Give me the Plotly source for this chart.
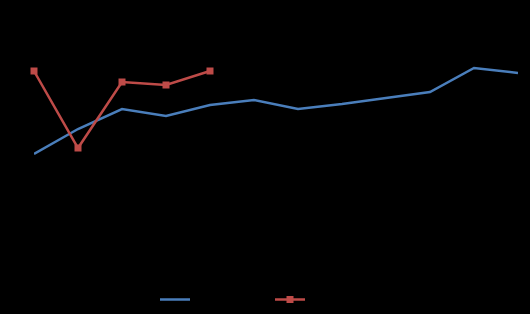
import plotly.graph_objects as go

categories = list(range(1, 13))
blue_values = [117, 142, 162, 155, 166, 171, 162, 167, 173, 179, 203, 198]
red_categories = [1, 2, 3, 4, 5]
red_values = [200, 123, 189, 186, 200]

fig = go.Figure()
fig.add_trace(go.Scatter(
    x=categories, y=blue_values, mode="lines", name="Series 1",
    line=dict(color="#4A7EBB", width=2.5), cliponaxis=False,
))
fig.add_trace(go.Scatter(
    x=red_categories, y=red_values, mode="lines+markers", name="Series 2",
    line=dict(color="#BE4B48", width=2.5), cliponaxis=False,
    marker=dict(symbol="square", size=7, color="#BE4B48"),
))

fig.update_layout(
    width=530, height=314,
    margin=dict(l=34, r=12, t=11, b=0),
    paper_bgcolor="black", plot_bgcolor="black",
    xaxis=dict(range=[1, 12], visible=False),
    yaxis=dict(range=[0, 260], visible=False, domain=[43 / 303, 1]),
    showlegend=True,
    legend=dict(orientation="h", x=(155 - 34) / 484, xanchor="left",
                y=0, yanchor="bottom",
                entrywidth=70, entrywidthmode="pixels",
                font=dict(color="black", size=8, family="Liberation Sans"),
                bgcolor="rgba(0,0,0,0)"),
)
fig.write_html("out.html")
